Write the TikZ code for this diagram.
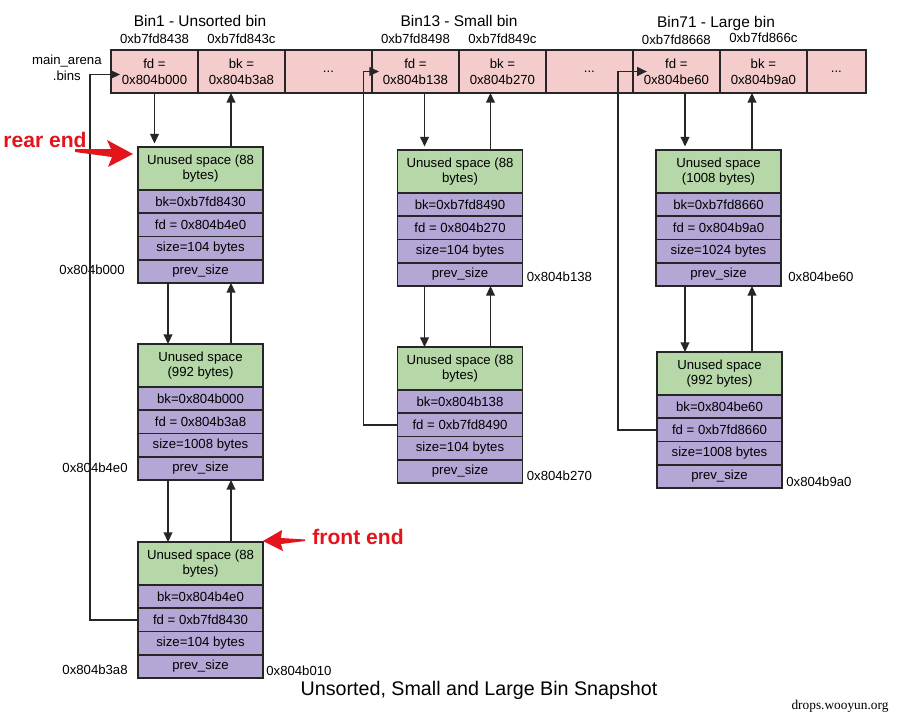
\documentclass[tikz,border=0pt]{standalone}
\usepackage{fontspec}
\setmainfont{Liberation Sans}
\newfontfamily\wmfont{Liberation Serif}
\usepackage{tikz}
\usetikzlibrary{positioning,calc,arrows.meta}

\definecolor{binred}{HTML}{F4CCCC}
\definecolor{chunkgreen}{HTML}{B6D7A8}
\definecolor{chunkpurple}{HTML}{B4A7D6}
\definecolor{markred}{HTML}{E3141C}
\definecolor{edge}{HTML}{262626}

\begin{document}
\begin{tikzpicture}[x=0.02cm, y=-0.02cm,
	cell/.style={draw=edge, fill=binred, line width=0.9pt, outer sep=0pt, inner sep=0pt,
		minimum width=1.74cm, minimum height=0.86cm, align=center,
		font=\fontsize{7.5}{9}\selectfont},
	free/.style={draw=edge, fill=chunkgreen, line width=0.9pt, outer sep=0pt, inner sep=0pt,
		minimum width=2.5cm, minimum height=0.86cm, align=center,
		font=\fontsize{7.5}{8.6}\selectfont},
	field/.style={free, fill=chunkpurple, minimum height=0.465cm},
	addr/.style={inner sep=0pt, font=\fontsize{7.5}{9}\selectfont},
	title/.style={inner sep=0pt, font=\fontsize{8.8}{10}\selectfont},
	callout/.style={inner sep=0pt, text=markred, font=\fontsize{12}{14}\selectfont\bfseries},
	link/.style={draw=edge, line width=0.9pt, -{Triangle[length=5.5pt,width=5pt]}}]
	\useasboundingbox (0,0) rectangle (897,718);

	% main_arena.bins
	\node[cell, anchor=north west] (bin1fd) at (111,50) {fd =\\0x804b000};
	\node[cell, right=0pt of bin1fd] (bin1bk) {bk =\\0x804b3a8};
	\node[cell, right=0pt of bin1bk] (bin1etc) {...};
	\node[cell, right=0pt of bin1etc] (bin13fd) {fd =\\0x804b138};
	\node[cell, right=0pt of bin13fd] (bin13bk) {bk =\\0x804b270};
	\node[cell, right=0pt of bin13bk] (bin13etc) {...};
	\node[cell, right=0pt of bin13etc] (bin71fd) {fd =\\0x804be60};
	\node[cell, right=0pt of bin71fd] (bin71bk) {bk =\\0x804b9a0};
	\node[cell, right=0pt of bin71bk, minimum width=1.18cm] (bin71etc) {...};

	\node[addr, align=center, left=0.18cm of bin1fd, yshift=0.08cm] (arena) {main\_arena\\.bins};
	\node[addr, above=0.13cm of bin1fd] (a8438) {0xb7fd8438};
	\node[addr, above=0.13cm of bin1bk] (a843c) {0xb7fd843c};
	\node[addr, above=0.13cm of bin13fd] (a8498) {0xb7fd8498};
	\node[addr, above=0.13cm of bin13bk] (a849c) {0xb7fd849c};
	\node[addr, above=0.11cm of bin71fd] (a8668) {0xb7fd8668};
	\node[addr, above=0.15cm of bin71bk] (a866c) {0xb7fd866c};

	\node[title] (t1) at (200,21) {Bin1 - Unsorted bin};
	\node[title] (t13) at (459,21) {Bin13 - Small bin};
	\node[title] (t71) at (716,23) {Bin71 - Large bin};

	% unsorted bin chunks
	\node[free, anchor=north] (un1-free) at (200.5,147) {Unused space (88\\bytes)};
	\node[field, below=0pt of un1-free] (un1-bk) {bk=0xb7fd8430};
	\node[field, below=0pt of un1-bk] (un1-fd) {fd = 0x804b4e0};
	\node[field, below=0pt of un1-fd] (un1-size) {size=104 bytes};
	\node[field, below=0pt of un1-size] (un1-prev) {prev\_size};

	\node[free, anchor=north] (un2-free) at (200.5,344) {Unused space\\(992 bytes)};
	\node[field, below=0pt of un2-free] (un2-bk) {bk=0x804b000};
	\node[field, below=0pt of un2-bk] (un2-fd) {fd = 0x804b3a8};
	\node[field, below=0pt of un2-fd] (un2-size) {size=1008 bytes};
	\node[field, below=0pt of un2-size] (un2-prev) {prev\_size};

	\node[free, anchor=north] (un3-free) at (200.5,542) {Unused space (88\\bytes)};
	\node[field, below=0pt of un3-free] (un3-bk) {bk=0x804b4e0};
	\node[field, below=0pt of un3-bk] (un3-fd) {fd = 0xb7fd8430};
	\node[field, below=0pt of un3-fd] (un3-size) {size=104 bytes};
	\node[field, below=0pt of un3-size] (un3-prev) {prev\_size};

	% small bin chunks
	\node[free, anchor=north] (sm1-free) at (460,150) {Unused space (88\\bytes)};
	\node[field, below=0pt of sm1-free] (sm1-bk) {bk=0xb7fd8490};
	\node[field, below=0pt of sm1-bk] (sm1-fd) {fd = 0x804b270};
	\node[field, below=0pt of sm1-fd] (sm1-size) {size=104 bytes};
	\node[field, below=0pt of sm1-size] (sm1-prev) {prev\_size};

	\node[free, anchor=north] (sm2-free) at (460,347) {Unused space (88\\bytes)};
	\node[field, below=0pt of sm2-free] (sm2-bk) {bk=0x804b138};
	\node[field, below=0pt of sm2-bk] (sm2-fd) {fd = 0xb7fd8490};
	\node[field, below=0pt of sm2-fd] (sm2-size) {size=104 bytes};
	\node[field, below=0pt of sm2-size] (sm2-prev) {prev\_size};

	% large bin chunks
	\node[free, anchor=north] (lg1-free) at (718.5,150) {Unused space\\(1008 bytes)};
	\node[field, below=0pt of lg1-free] (lg1-bk) {bk=0xb7fd8660};
	\node[field, below=0pt of lg1-bk] (lg1-fd) {fd = 0x804b9a0};
	\node[field, below=0pt of lg1-fd] (lg1-size) {size=1024 bytes};
	\node[field, below=0pt of lg1-size] (lg1-prev) {prev\_size};

	\node[free, anchor=north] (lg2-free) at (719.5,352) {Unused space\\(992 bytes)};
	\node[field, below=0pt of lg2-free] (lg2-bk) {bk=0x804be60};
	\node[field, below=0pt of lg2-bk] (lg2-fd) {fd = 0xb7fd8660};
	\node[field, below=0pt of lg2-fd] (lg2-size) {size=1008 bytes};
	\node[field, below=0pt of lg2-size] (lg2-prev) {prev\_size};

	% chunk addresses
	\node[addr, left=0.26cm of un1-prev, yshift=0.04cm] (a000) {0x804b000};
	\node[addr, left=0.2cm of un2-prev, yshift=0.02cm] (a4e0) {0x804b4e0};
	\node[addr, left=0.2cm of un3-prev, yshift=-0.06cm] (a3a8) {0x804b3a8};
	\node[addr, right=0.06cm of un3-prev, yshift=-0.08cm] (a010) {0x804b010};
	\node[addr, right=0.08cm of sm1-prev, yshift=-0.05cm] (a138) {0x804b138};
	\node[addr, right=0.08cm of sm2-prev, yshift=-0.08cm] (a270) {0x804b270};
	\node[addr, right=0.14cm of lg1-prev, yshift=-0.05cm] (ae60) {0x804be60};
	\node[addr, right=0.08cm of lg2-prev, yshift=-0.1cm] (a9a0) {0x804b9a0};

	% unsorted bin links
	\draw[link, shorten >=2pt] (bin1fd.south) -- (bin1fd.south |- un1-free.north);
	\draw[link] ($(un1-free.north east)+(-32,0)$) -- ($(un1-free.north east |- bin1bk.south)+(-32,0)$);
	\draw[link] ($(un1-prev.south west)+(30,0)$) -- ($(un2-free.north west)+(30,0)$);
	\draw[link] ($(un2-free.north east)+(-32,0)$) -- ($(un1-prev.south east)+(-32,0)$);
	\draw[link] ($(un2-prev.south west)+(30,0)$) -- ($(un3-free.north west)+(30,0)$);
	\draw[link] ($(un3-free.north east)+(-32,0)$) -- ($(un2-prev.south east)+(-32,0)$);
	\draw[link] (un3-fd.west) -- ++(-48,0) |- ($(bin1fd.west)+(9,3)$);

	% small bin links
	\draw[link, shorten >=2pt] ($(sm1-free.north west |- bin13fd.south)+(27,0)$) -- ($(sm1-free.north west)+(27,0)$);
	\draw[link] ($(sm1-free.north east)+(-32,0)$) -- ($(sm1-free.north east |- bin13bk.south)+(-32,0)$);
	\draw[link] ($(sm1-prev.south west)+(27,0)$) -- ($(sm2-free.north west)+(27,0)$);
	\draw[link] ($(sm2-free.north east)+(-32,0)$) -- ($(sm1-prev.south east)+(-32,0)$);
	\draw[link] (sm2-fd.west) -- ++(-34,0) |- ($(bin13fd.west)+(7,0)$);

	% large bin links
	\draw[link, shorten >=2pt] ($(lg1-free.north west |- bin71fd.south)+(29,0)$) -- ($(lg1-free.north west)+(29,0)$);
	\draw[link] ($(lg1-free.north east)+(-29,0)$) -- ($(lg1-free.north east |- bin71bk.south)+(-29,0)$);
	\draw[link] ($(lg1-prev.south west)+(29,0)$) -- ($(lg2-free.north west)+(28,0)$);
	\draw[link] ($(lg2-free.north east)+(-30,0)$) -- ($(lg1-prev.south east)+(-29,0)$);
	\draw[link] (lg2-fd.west) -- ++(-39,0) |- ($(bin71fd.west)+(14,0)$);

	% rear end / front end marks
	\node[callout] (rear) at (45,140) {rear end};
	\fill[markred] (75,149) -- (111,149) -- (107,140) -- (133,154) -- (108,167) -- (112,157) -- (75,152) -- cycle;
	\node[callout] (front) at (358,537) {front end};
	\fill[markred] (305,539.5) -- (281,538) -- (282,530) -- (263,541) -- (283,551) -- (281,544) -- (305,541) -- cycle;

	\node[inner sep=0pt, font=\fontsize{11.2}{13}\selectfont] (caption) at (479,690) {Unsorted, Small and Large Bin Snapshot};
	\node[inner sep=0pt, font=\wmfont\fontsize{7.6}{9}\selectfont] (wm) at (840,706) {drops.wooyun.org};
\end{tikzpicture}
\end{document}
